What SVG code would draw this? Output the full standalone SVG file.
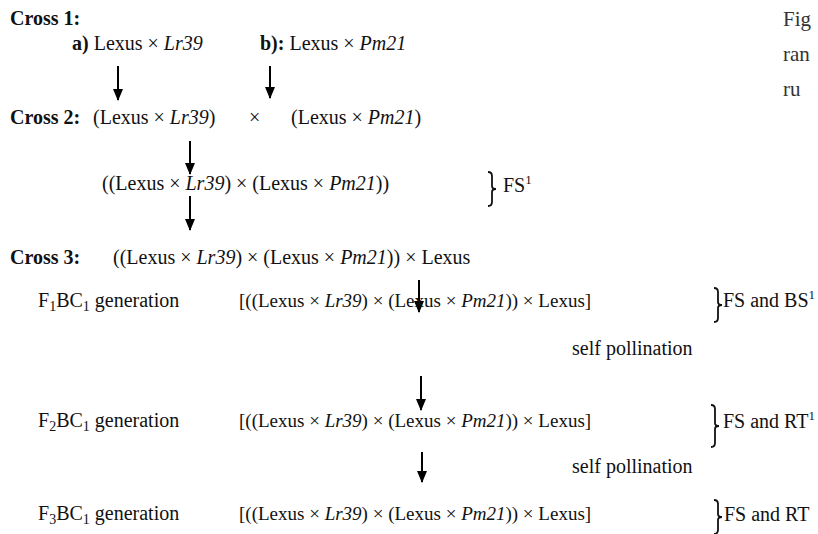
<svg xmlns="http://www.w3.org/2000/svg" width="818" height="534" viewBox="0 0 818 534">
<defs>
<marker id="ah" markerWidth="12" markerHeight="10" refX="11" refY="5" orient="auto" markerUnits="userSpaceOnUse" viewBox="0 0 12 10">
<path d="M0,0 L12,5 L0,10 Z" fill="#000"/>
</marker>
</defs>
<style>
.t{font-size:20px;fill:#111}
.br{font-size:19px}
.b{font-weight:bold}
.i{font-style:italic}
.sub{font-size:14px}
.sup{font-size:13px}
.arrow{stroke:#000;stroke-width:2;fill:none}
.brace{stroke:#111;stroke-width:1.8;fill:none}
.side{font-size:21px;fill:#333}
</style>
<rect width="818" height="534" fill="#fff"/>

<g id="connectors">
<line class="arrow" x1="118" y1="66" x2="118" y2="100" marker-end="url(#ah)"/>
<line class="arrow" x1="270" y1="66" x2="270" y2="98" marker-end="url(#ah)"/>
<line class="arrow" x1="190" y1="141" x2="190" y2="174" marker-end="url(#ah)"/>
<line class="arrow" x1="190" y1="196" x2="190" y2="230" marker-end="url(#ah)"/>
<line class="arrow" x1="419" y1="280" x2="419" y2="312" marker-end="url(#ah)"/>
<line class="arrow" x1="421" y1="376" x2="421" y2="410" marker-end="url(#ah)"/>
<line class="arrow" x1="422" y1="452" x2="422" y2="482" marker-end="url(#ah)"/>
</g>

<g id="cross1">
<text class="t b" font-family="Liberation Serif" x="10" y="25">Cross 1:</text>
</g>
<g id="cross1a">
<text class="t" font-family="Liberation Serif" x="72" y="50"><tspan class="b">a)</tspan> Lexus × <tspan class="i">Lr39</tspan></text>
</g>
<g id="cross1b">
<text class="t" font-family="Liberation Serif" x="260" y="50"><tspan class="b">b):</tspan> Lexus × <tspan class="i">Pm21</tspan></text>
</g>

<g id="cross2">
<text class="t b" font-family="Liberation Serif" x="10" y="124">Cross 2:</text>
<text class="t" font-family="Liberation Serif" x="93" y="124">(Lexus × <tspan class="i">Lr39</tspan>)</text>
<text class="t" font-family="Liberation Serif" x="249" y="124">×</text>
<text class="t" font-family="Liberation Serif" x="291" y="124">(Lexus × <tspan class="i">Pm21</tspan>)</text>
</g>

<g id="f1">
<text class="t" font-family="Liberation Serif" x="102" y="190">((Lexus × <tspan class="i">Lr39</tspan>) × (Lexus × <tspan class="i">Pm21</tspan>))</text>
<path class="brace" d="M488,172 Q492,172 492,176 L492,186 Q492,189 496,189 Q492,189 492,192 L492,202 Q492,206 488,206"/>
<text class="t" font-family="Liberation Serif" x="503" y="192">FS<tspan class="sup" dy="-8">1</tspan></text>
</g>

<g id="cross3">
<text class="t b" font-family="Liberation Serif" x="10" y="264">Cross 3:</text>
<text class="t" font-family="Liberation Serif" x="113" y="264">((Lexus × <tspan class="i">Lr39</tspan>) × (Lexus × <tspan class="i">Pm21</tspan>)) × Lexus</text>
</g>

<g id="f1bc1">
<text class="t" font-family="Liberation Serif" x="38" y="307">F<tspan class="sub" dy="4">1</tspan><tspan dy="-4">BC</tspan><tspan class="sub" dy="4">1</tspan><tspan dy="-4"> generation</tspan></text>
<text class="t br" font-family="Liberation Serif" x="239" y="307">[((Lexus × <tspan class="i">Lr39</tspan>) × (Lexus × <tspan class="i">Pm21</tspan>)) × Lexus]</text>
<path class="brace" d="M714,288 Q718,288 718,292 L718,302 Q718,305 722,305 Q718,305 718,308 L718,318 Q718,322 714,322"/>
<text class="t" font-family="Liberation Serif" x="723" y="307">FS and BS<tspan class="sup" dy="-8">1</tspan></text>
</g>

<g id="self1">
<text class="t" font-family="Liberation Serif" x="572" y="355">self pollination</text>
</g>

<g id="f2bc1">
<text class="t" font-family="Liberation Serif" x="38" y="427">F<tspan class="sub" dy="4">2</tspan><tspan dy="-4">BC</tspan><tspan class="sub" dy="4">1</tspan><tspan dy="-4"> generation</tspan></text>
<text class="t br" font-family="Liberation Serif" x="239" y="427">[((Lexus × <tspan class="i">Lr39</tspan>) × (Lexus × <tspan class="i">Pm21</tspan>)) × Lexus]</text>
<path class="brace" d="M711,405 Q715,405 715,409 L715,423 Q715,426 719,426 Q715,426 715,429 L715,443 Q715,447 711,447"/>
<text class="t" font-family="Liberation Serif" x="723" y="428">FS and RT<tspan class="sup" dy="-8">1</tspan></text>
</g>

<g id="self2">
<text class="t" font-family="Liberation Serif" x="572" y="473">self pollination</text>
</g>

<g id="f3bc1">
<text class="t" font-family="Liberation Serif" x="38" y="520">F<tspan class="sub" dy="4">3</tspan><tspan dy="-4">BC</tspan><tspan class="sub" dy="4">1</tspan><tspan dy="-4"> generation</tspan></text>
<text class="t br" font-family="Liberation Serif" x="239" y="520">[((Lexus × <tspan class="i">Lr39</tspan>) × (Lexus × <tspan class="i">Pm21</tspan>)) × Lexus]</text>
<path class="brace" d="M714,500 Q718,500 718,504 L718,514 Q718,517 722,517 Q718,517 718,520 L718,530 Q718,534 714,534"/>
<text class="t" font-family="Liberation Serif" x="724" y="521">FS and RT</text>
</g>

<g id="side-text">
<text class="t side" font-family="Liberation Serif" x="783" y="26">Fig</text>
<text class="t side" font-family="Liberation Serif" x="783" y="61">ran</text>
<text class="t side" font-family="Liberation Serif" x="783" y="96">ru</text>
</g>
</svg>
